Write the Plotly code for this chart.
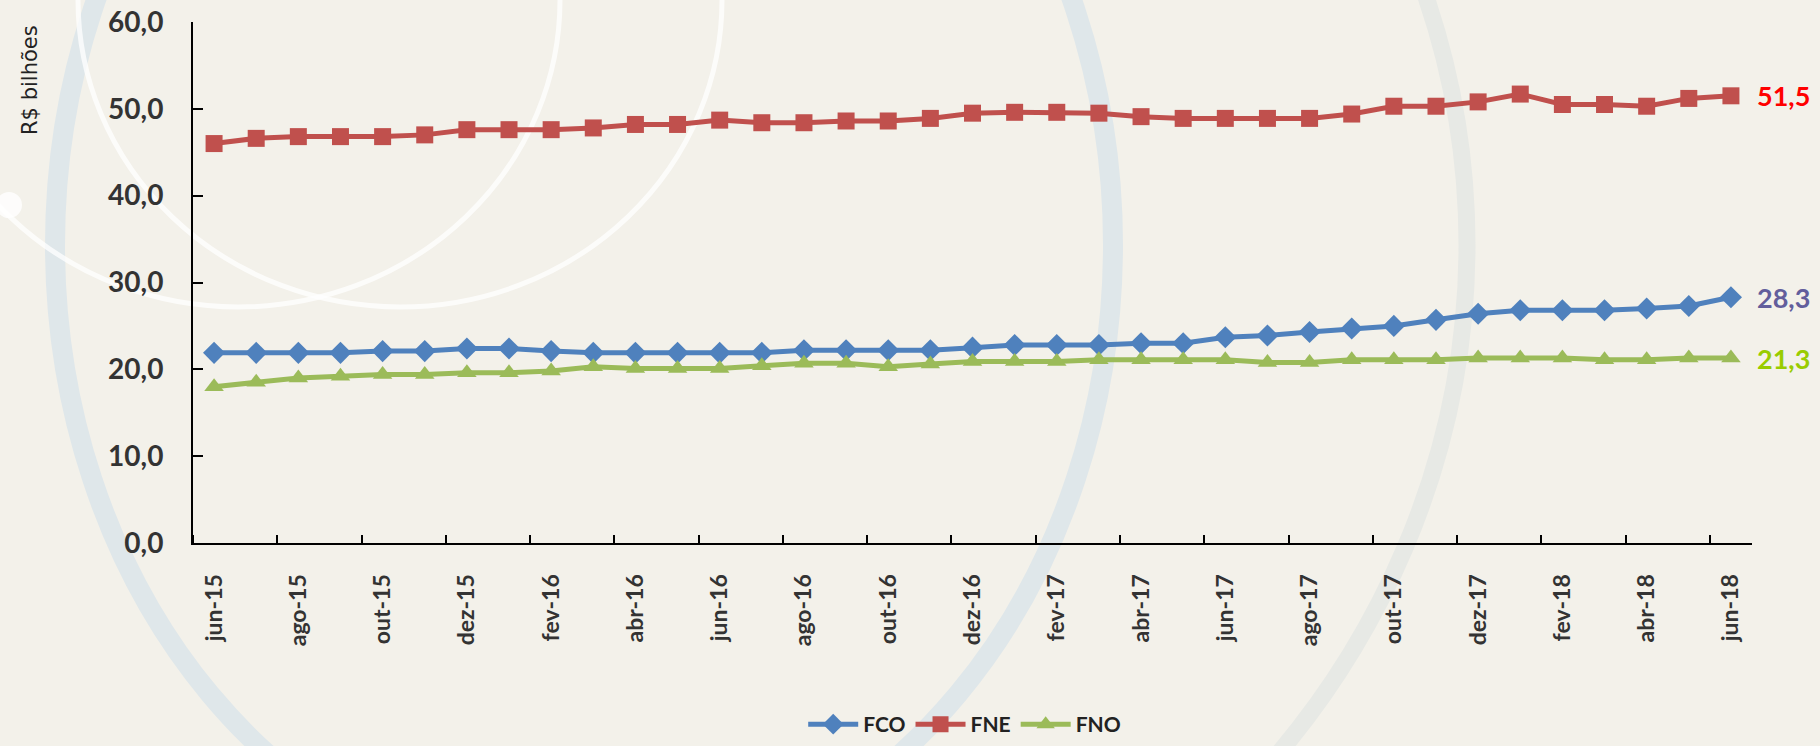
import plotly.graph_objects as go

months = ["jun-15", "jul-15", "ago-15", "set-15", "out-15", "nov-15", "dez-15",
          "jan-16", "fev-16", "mar-16", "abr-16", "mai-16", "jun-16", "jul-16",
          "ago-16", "set-16", "out-16", "nov-16", "dez-16", "jan-17", "fev-17",
          "mar-17", "abr-17", "mai-17", "jun-17", "jul-17", "ago-17", "set-17",
          "out-17", "nov-17", "dez-17", "jan-18", "fev-18", "mar-18", "abr-18",
          "mai-18", "jun-18"]

fco = [21.9, 21.9, 21.9, 21.9, 22.1, 22.1, 22.4, 22.4, 22.1, 21.9, 21.9, 21.9,
       21.9, 21.9, 22.2, 22.2, 22.2, 22.2, 22.5, 22.8, 22.8, 22.8, 23.0, 23.0,
       23.7, 23.9, 24.3, 24.7, 25.0, 25.7, 26.4, 26.8, 26.8, 26.8, 27.0, 27.3, 28.3]

fne = [46.0, 46.6, 46.8, 46.8, 46.8, 47.0, 47.6, 47.6, 47.6, 47.8, 48.2, 48.2,
       48.7, 48.4, 48.4, 48.6, 48.6, 48.9, 49.5, 49.6, 49.6, 49.5, 49.1, 48.9,
       48.9, 48.9, 48.9, 49.4, 50.3, 50.3, 50.8, 51.7, 50.5, 50.5, 50.3, 51.2, 51.5]

fno = [18.0, 18.5, 19.0, 19.2, 19.4, 19.4, 19.6, 19.6, 19.8, 20.3, 20.1, 20.1,
       20.1, 20.4, 20.7, 20.7, 20.3, 20.6, 20.9, 20.9, 20.9, 21.1, 21.1, 21.1,
       21.1, 20.8, 20.8, 21.1, 21.1, 21.1, 21.3, 21.3, 21.3, 21.1, 21.1, 21.3, 21.3]

series_names = ["FCO", "FNE", "FNO"]
series_values = [fco, fne, fno]
series_colors = ["#4f81bd", "#c0504d", "#9bbb59"]
series_symbols = ["diamond", "square", "triangle-up"]
end_label_colors = ["#625e9c", "#ff0000", "#99cc00"]

y_ticks = [0, 10, 20, 30, 40, 50, 60]

FONT = "Lato, 'Open Sans', sans-serif"
BG = "#f3f1ea"

W, H = 1820, 746
L, R, T, B = 193, 68, 22, 203
PW, PH = W - L - R, H - T - B

def px_x(px):
    return (px - L) / PW

def px_y(py):
    return (H - B - py) / PH

x_idx = list(range(len(months)))

fig = go.Figure()

for name, vals, col, sym in zip(series_names, series_values, series_colors, series_symbols):
    fig.add_trace(go.Scatter(
        x=x_idx, y=vals, name=name, mode="lines+markers",
        line=dict(color=col, width=5),
        marker=dict(symbol=sym, size=17, color=col),
        cliponaxis=False,
    ))

# end-of-line value labels
for vals, col in zip(series_values, end_label_colors):
    fig.add_annotation(
        x=x_idx[-1], y=vals[-1], xref="x", yref="y",
        text=f"{vals[-1]:.1f}".replace(".", ","),
        showarrow=False, xanchor="left", yanchor="middle", xshift=24,
        font=dict(family=FONT, size=27, color=col, weight="bold"),
    )

# y-axis title
fig.add_annotation(
    x=px_x(30), y=px_y(80), xref="paper", yref="paper",
    text="R$ bilhões", textangle=-90, showarrow=False,
    xanchor="center", yanchor="middle",
    font=dict(family="'DejaVu Sans', sans-serif", size=21, color="#222222"),
)

# decorative background rings
def ellipse(cx, cy, a, b, color, width):
    return dict(type="circle", xref="paper", yref="paper", layer="below",
                x0=px_x(cx - a), x1=px_x(cx + a),
                y0=px_y(cy + b), y1=px_y(cy - b),
                line=dict(color=color, width=width))

shapes = [
    ellipse(584, 245, 883, 823, "#e7e9e5", 17),
    ellipse(584, 245, 529, 635, "#dfe7ea", 20),
    ellipse(400, 0, 322, 307, "rgba(255,255,255,0.75)", 5),
    ellipse(238, 0, 322, 307, "rgba(255,255,255,0.75)", 5),
    dict(type="circle", xref="paper", yref="paper", layer="below",
         x0=px_x(-4), x1=px_x(22), y0=px_y(218), y1=px_y(192),
         fillcolor="rgba(255,255,255,0.8)", line=dict(width=0)),
]

fig.update_layout(
    width=W, height=H,
    margin=dict(l=L, r=R, t=T, b=B, pad=0, autoexpand=False),
    paper_bgcolor=BG, plot_bgcolor="rgba(0,0,0,0)",
    separators=",.",
    shapes=shapes,
    showlegend=True,
    legend=dict(orientation="h", x=0.495, xanchor="center", y=px_y(745), yanchor="bottom",
                font=dict(family=FONT, size=21, color="#222222", weight="bold"),
                bgcolor="rgba(0,0,0,0)", itemwidth=50, tracegroupgap=0),
    font=dict(family=FONT),
)

fig.update_xaxes(
    range=[-0.5, len(months) - 0.5], automargin=False,
    tickmode="array", tickvals=x_idx[::2], ticktext=months[::2],
    tickangle=-90, ticks="", ticklabelstandoff=20,
    tickfont=dict(family=FONT, size=23, color="#333333", weight="bold"),
    showline=True, linecolor="black", linewidth=2,
    showgrid=False, zeroline=False,
    minor=dict(tickmode="array", tickvals=[i - 0.5 for i in x_idx[::2]],
               ticks="inside", ticklen=8, tickwidth=2, tickcolor="black", showgrid=False),
)

fig.update_yaxes(
    range=[0, 60], automargin=False,
    tickmode="array", tickvals=y_ticks, tickformat=".1f",
    ticks="inside", ticklen=10, tickwidth=2, tickcolor="black",
    ticklabelstandoff=22,
    tickfont=dict(family=FONT, size=28, color="#333333", weight="bold"),
    showline=True, linecolor="black", linewidth=2,
    showgrid=False, zeroline=False,
)

fig.write_html("out.html",
               config={"displayModeBar": False},
               post_script="document.body.style.margin='0px';document.body.style.overflow='hidden';")
